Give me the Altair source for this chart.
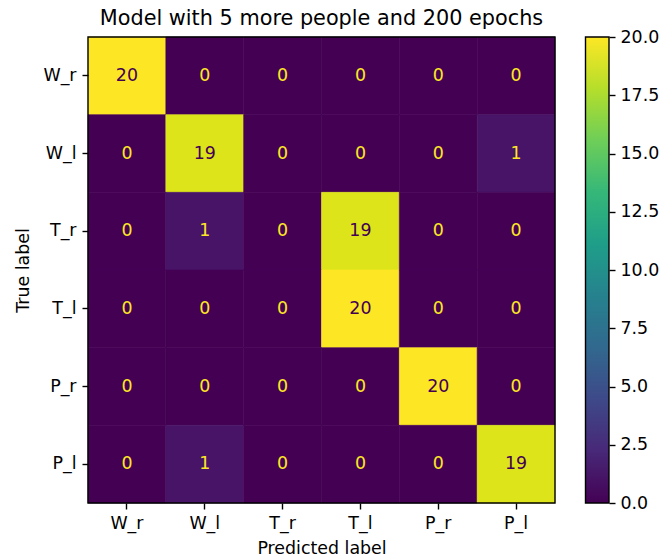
import altair as alt
import pandas as pd

labels = ["W_r", "W_l", "T_r", "T_l", "P_r", "P_l"]
row_W_r = [20, 0, 0, 0, 0, 0]
row_W_l = [0, 19, 0, 0, 0, 1]
row_T_r = [0, 1, 0, 19, 0, 0]
row_T_l = [0, 0, 0, 20, 0, 0]
row_P_r = [0, 0, 0, 0, 20, 0]
row_P_l = [0, 1, 0, 0, 0, 19]
matrix = [row_W_r, row_W_l, row_T_r, row_T_l, row_P_r, row_P_l]
color_domain = [0, 20]
colorbar_ticks = [0, 2.5, 5, 7.5, 10, 12.5, 15, 17.5, 20]

records = []
for t, row in zip(labels, matrix):
    for p, v in zip(labels, row):
        records.append({"true": t, "pred": p, "value": v})
df = pd.DataFrame(records)

FONT = "DejaVu Sans"
FS = 17.4
W, H = 467, 466
CB_X0, CB_X1 = 497.5, 521
band = alt.Scale(paddingInner=0, paddingOuter=0)
vscale = alt.Scale(scheme="viridis", domain=color_domain)

x_enc = alt.X("pred:N", sort=labels, title="Predicted label", scale=band,
              axis=alt.Axis(labelAngle=0, tickSize=6, tickWidth=1.4, labelPadding=5, titlePadding=8))
y_enc = alt.Y("true:N", sort=labels, title="True label", scale=band,
              axis=alt.Axis(tickSize=6, tickWidth=1.4, labelPadding=6, titlePadding=10))

heat = alt.Chart(df).mark_rect(strokeWidth=0.6).encode(
    x=x_enc,
    y=y_enc,
    color=alt.Color("value:Q", scale=vscale, legend=None),
    stroke=alt.Stroke("value:Q", scale=vscale, legend=None),
)

text = alt.Chart(df).mark_text(fontSize=FS, font=FONT).encode(
    x=x_enc,
    y=y_enc,
    text="value:Q",
    color=alt.condition(alt.datum.value >= 10, alt.value("#440154"), alt.value("#fde725")),
)

frame_df = pd.DataFrame({"f": [0]})
frame = alt.Chart(frame_df).mark_rect(fillOpacity=0, stroke="black", strokeWidth=1.4).encode(
    x=alt.value(0), x2=alt.value(W), y=alt.value(0), y2=alt.value(H)
)

viridis_stops = ["#440154", "#482878", "#3e4989", "#31688e", "#26828e",
                 "#1f9e89", "#35b779", "#6ece58", "#b5de2b", "#fde725"]
gradient = {
    "gradient": "linear", "x1": 0, "y1": 1, "x2": 0, "y2": 0,
    "stops": [{"offset": i / (len(viridis_stops) - 1), "color": c} for i, c in enumerate(viridis_stops)],
}

cb_df = pd.DataFrame({"lo": [color_domain[0]], "hi": [color_domain[1]]})
cbar = alt.Chart(cb_df).mark_rect(fill=gradient, stroke="black", strokeWidth=1.4).encode(
    x=alt.value(CB_X0),
    x2=alt.value(CB_X1),
    y=alt.Y("lo:Q", scale=alt.Scale(domain=color_domain, nice=False, zero=False),
            axis=alt.Axis(orient="right", offset=CB_X1 - W, values=colorbar_ticks, format=".1f",
                          title=None, domain=False, grid=False, tickSize=6, tickWidth=1.4,
                          labelPadding=5)),
    y2="hi:Q",
)

main = alt.layer(heat, text, frame)

chart = alt.layer(main, cbar).resolve_scale(y="independent").properties(
    width=W,
    height=H,
    title=alt.TitleParams("Model with 5 more people and 200 epochs", fontSize=20.8, font=FONT,
                          fontWeight="normal", anchor="middle", offset=-2, color="black"),
    autosize=alt.AutoSizeParams(type="none"),
    padding={"left": 88, "top": 37, "right": 662 - 88 - W, "bottom": 560 - 37 - H},
).configure_view(stroke=None).configure_axis(
    labelFont=FONT, titleFont=FONT, labelFontSize=FS, titleFontSize=FS,
    titleFontWeight="normal", labelColor="black", titleColor="black",
    tickColor="black", domain=False, grid=False,
)

chart.save("out.html", embed_options={"renderer": "svg", "actions": False})
